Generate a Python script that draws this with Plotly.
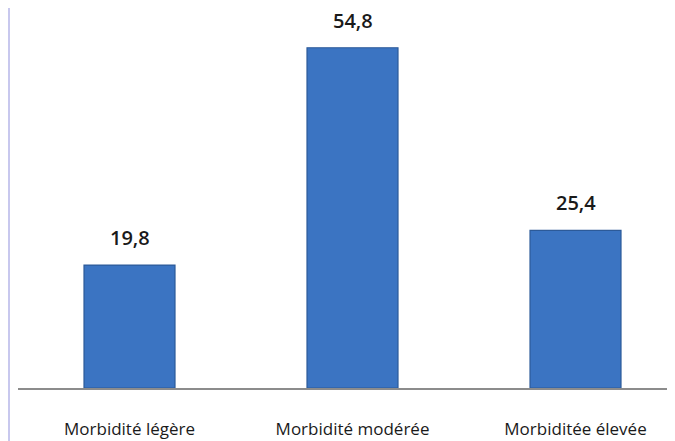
import plotly.graph_objects as go

categories = ["Morbidité légère", "Morbidité modérée", "Morbiditée élevée"]
values = [19.8, 54.8, 25.4]
value_labels = ["19,8", "54,8", "25,4"]

fig = go.Figure()
fig.add_trace(go.Bar(
    x=categories,
    y=values,
    width=0.408,
    marker=dict(color="#3b74c2", line=dict(color="#2c5a99", width=1.2)),
    cliponaxis=False,
))

for c, v, t in zip(categories, values, value_labels):
    fig.add_annotation(x=c, y=v, text=t, showarrow=False,
                       yanchor="bottom", yshift=12,
                       font=dict(family="Open Sans", size=20, color="#1a1a1a", weight=600))

fig.update_layout(
    width=675, height=441,
    margin=dict(l=10, r=0, t=0, b=61),
    paper_bgcolor="white", plot_bgcolor="white",
    showlegend=False,
    xaxis=dict(
        range=[-0.5, 2.482],
        showline=True, linecolor="#8c8c8c", linewidth=1.5,
        ticks="", showgrid=False,
        tickfont=dict(family="Open Sans", size=17, color="#1a1a1a"),
        ticklabelstandoff=25,
    ),
    yaxis=dict(range=[0, 61.2], visible=False, showgrid=False),
)
fig.add_shape(type="rect", xref="paper", yref="paper",
              x0=-10/665, x1=-8/665, y0=-61/380, y1=1,
              line=dict(width=0), fillcolor="#c8c8ee", layer="above")

fig.write_html("out.html")
